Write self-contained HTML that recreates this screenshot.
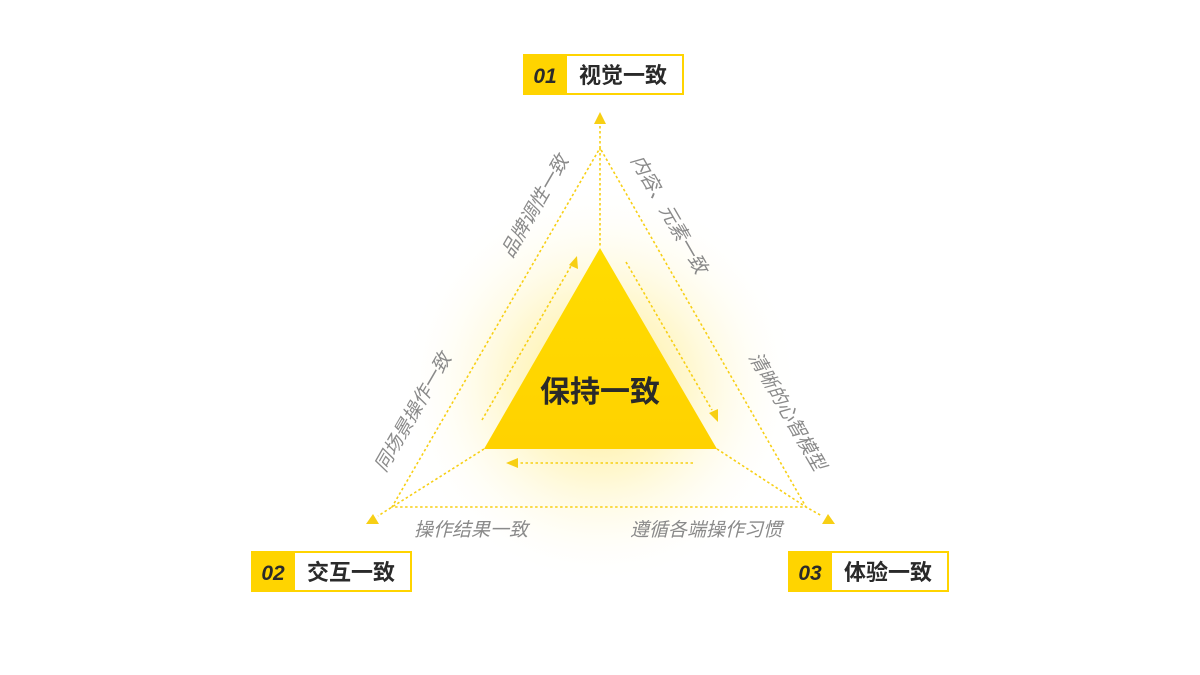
<!DOCTYPE html>
<html><head><meta charset="utf-8"><style>
html,body{margin:0;padding:0;background:#fff;}
svg{display:block;}
text{font-family:"Liberation Sans","Noto Sans CJK SC",sans-serif;}
</style></head><body>
<svg width="1200" height="675" viewBox="0 0 1200 675" xmlns="http://www.w3.org/2000/svg">
<defs>
<radialGradient id="glow" cx="600" cy="385" r="200" gradientUnits="userSpaceOnUse">
<stop offset="0" stop-color="#ffe14a" stop-opacity="0.7"/>
<stop offset="0.45" stop-color="#fff0a0" stop-opacity="0.5"/>
<stop offset="1" stop-color="#ffffff" stop-opacity="0"/>
</radialGradient>
<linearGradient id="tri" x1="0" y1="0" x2="0" y2="1">
<stop offset="0" stop-color="#ffdc00"/><stop offset="1" stop-color="#ffd200"/>
</linearGradient>
</defs>
<rect width="1200" height="675" fill="#fff"/>
<circle cx="600" cy="385" r="200" fill="url(#glow)"/>
<g stroke="#f7cf14" stroke-width="1.6" stroke-dasharray="2.5 2.5" fill="none">
<path d="M600 126 L600 148 L392 507 L806 507 L600 148"/>
<path d="M600 148 L600 248"/>
<path d="M484 449 L392 507 L378 516"/>
<path d="M717 449 L806 507 L822 516"/>
<path d="M482 420 L571 266"/>
<path d="M626 262 L712 410"/>
<path d="M693 463 L518 463"/>
</g>
<g fill="#f7cf14">
<polygon points="600,112 594,124 606,124"/>
<polygon points="366,524 379,524 373,514"/>
<polygon points="835,524 822,524 828,514"/>
<polygon points="577,256 569,265 578,269"/>
<polygon points="718,422 709,413 718,409"/>
<polygon points="506,463 518,458 518,468"/>
</g>
<polygon points="600,248 484,449 717,449" fill="url(#tri)"/>
<text x="600" y="402" text-anchor="middle" font-size="30" font-weight="bold" fill="#2a2a2a">保持一致</text>
<g font-size="19" fill="#8a8a8a" font-style="italic">
<text transform="translate(536,207) rotate(-60)" text-anchor="middle" dominant-baseline="middle">品牌调性一致</text>
<text transform="translate(668,215) rotate(60)" text-anchor="middle" dominant-baseline="middle">内容、元素一致</text>
<text transform="translate(414,413) rotate(-60)" text-anchor="middle" dominant-baseline="middle">同场景操作一致</text>
<text transform="translate(786,412) rotate(60)" text-anchor="middle" dominant-baseline="middle">清晰的心智模型</text>
<text x="471" y="536" text-anchor="middle">操作结果一致</text>
<text x="706" y="536" text-anchor="middle">遵循各端操作习惯</text>
</g>
<g>
<rect x="524" y="55" width="159" height="39" fill="#fff" stroke="#ffd400" stroke-width="2"/>
<rect x="523" y="54" width="44" height="41" fill="#ffd400"/>
<text x="545" y="83" text-anchor="middle" font-size="21" font-weight="bold" font-style="italic" fill="#2a2a2a">01</text>
<text x="623" y="83" text-anchor="middle" font-size="22" font-weight="bold" fill="#2a2a2a">视觉一致</text>
</g>
<g>
<rect x="252" y="552" width="159" height="39" fill="#fff" stroke="#ffd400" stroke-width="2"/>
<rect x="251" y="551" width="44" height="41" fill="#ffd400"/>
<text x="273" y="580" text-anchor="middle" font-size="21" font-weight="bold" font-style="italic" fill="#2a2a2a">02</text>
<text x="351" y="580" text-anchor="middle" font-size="22" font-weight="bold" fill="#2a2a2a">交互一致</text>
</g>
<g>
<rect x="789" y="552" width="159" height="39" fill="#fff" stroke="#ffd400" stroke-width="2"/>
<rect x="788" y="551" width="44" height="41" fill="#ffd400"/>
<text x="810" y="580" text-anchor="middle" font-size="21" font-weight="bold" font-style="italic" fill="#2a2a2a">03</text>
<text x="888" y="580" text-anchor="middle" font-size="22" font-weight="bold" fill="#2a2a2a">体验一致</text>
</g>
</svg>
</body></html>
